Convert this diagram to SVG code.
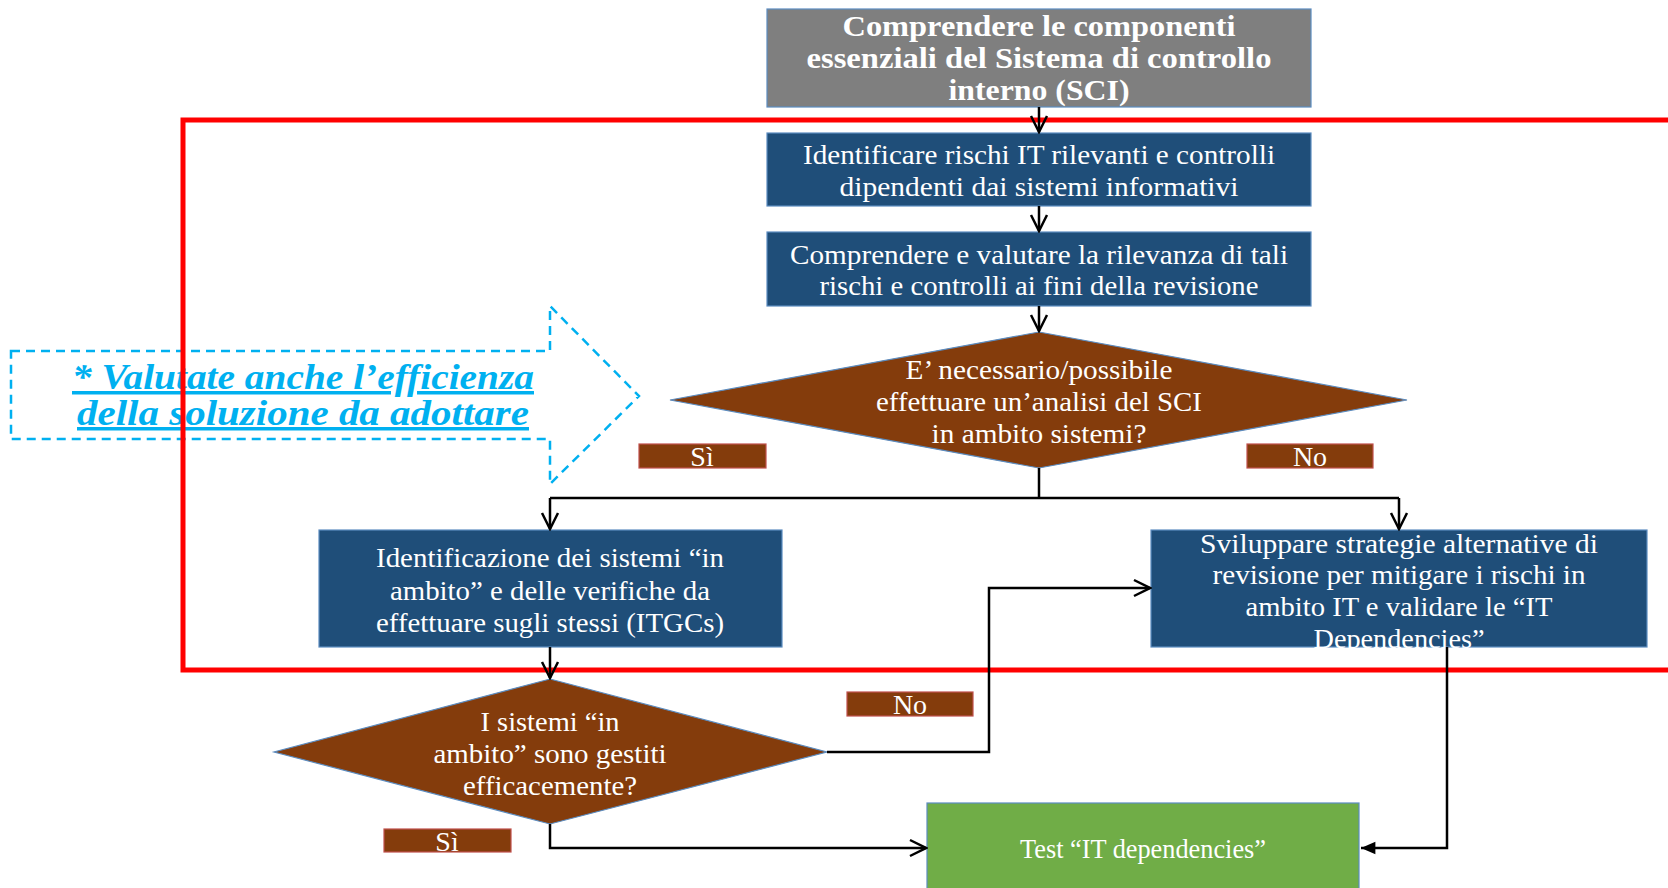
<svg xmlns="http://www.w3.org/2000/svg" width="1668" height="888" viewBox="0 0 1668 888">
<defs>
<style>
.box{stroke:#5B8CC0;stroke-width:1.2}
.blue{fill:#1F4E79}
.brown{fill:#843C0C}
.lbl{fill:#843C0C;stroke:#C0504D;stroke-width:1.2}
.t{font-family:"Liberation Serif","DejaVu Serif",serif;fill:#fff;text-anchor:middle;font-size:28px}
.hb{font-weight:bold;font-size:29px}
.conn{fill:none;stroke:#000;stroke-width:2.5}
.note{font-family:"Liberation Serif","DejaVu Serif",serif;font-weight:bold;font-style:italic;font-size:35px;fill:#00B0F0;text-anchor:middle;text-decoration:underline}
</style>
<marker id="open" viewBox="0 0 20 20" refX="18" refY="10" markerWidth="20" markerHeight="20" markerUnits="userSpaceOnUse" orient="auto">
<path d="M2,2 L18,10 L2,18" fill="none" stroke="#000" stroke-width="2.5"/>
</marker>
<marker id="filled" viewBox="0 0 20 20" refX="18" refY="10" markerWidth="18" markerHeight="18" markerUnits="userSpaceOnUse" orient="auto">
<path d="M2,3 L18,10 L2,17 Z" fill="#000"/>
</marker>
</defs>
<rect width="1668" height="888" fill="#fff"/>

<g id="note">
<path d="M11,351 L550,351 L550,306 L639,396 L550,484 L550,439 L11,439 Z" fill="none" stroke="#00B0F0" stroke-width="2.5" stroke-dasharray="9,6"/>
<text class="note" x="303" y="389" textLength="462" lengthAdjust="spacingAndGlyphs">* Valutate anche l’efficienza</text>
<text class="note" x="303" y="425" textLength="452" lengthAdjust="spacingAndGlyphs">della soluzione da adottare</text>
</g>

<g id="scope">
<path d="M1668,120 L183,120 L183,670 L1668,670" fill="none" stroke="#FF0000" stroke-width="5"/>
</g>

<g id="n1">
<rect x="767" y="9" width="544" height="98" fill="#7F7F7F" class="box"/>
<text class="t hb" x="1039" y="36" textLength="393" lengthAdjust="spacingAndGlyphs">Comprendere le componenti</text>
<text class="t hb" x="1039" y="68" textLength="465" lengthAdjust="spacingAndGlyphs">essenziali del Sistema di controllo</text>
<text class="t hb" x="1039" y="100" textLength="181" lengthAdjust="spacingAndGlyphs">interno (SCI)</text>
</g>

<g id="n2">
<rect x="767" y="133" width="544" height="73" class="box blue"/>
<text class="t" x="1039" y="164" textLength="472" lengthAdjust="spacingAndGlyphs">Identificare rischi IT rilevanti e controlli</text>
<text class="t" x="1039" y="196" textLength="399" lengthAdjust="spacingAndGlyphs">dipendenti dai sistemi informativi</text>
</g>

<g id="n3">
<rect x="767" y="232" width="544" height="74" class="box blue"/>
<text class="t" x="1039" y="264" textLength="498" lengthAdjust="spacingAndGlyphs">Comprendere e valutare la rilevanza di tali</text>
<text class="t" x="1039" y="295" textLength="439" lengthAdjust="spacingAndGlyphs">rischi e controlli ai fini della revisione</text>
</g>

<g id="d1">
<polygon points="1039,332 1407,400 1039,468 670,400" class="box brown"/>
<text class="t" x="1039" y="379" textLength="267" lengthAdjust="spacingAndGlyphs">E’ necessario/possibile</text>
<text class="t" x="1039" y="411" textLength="326" lengthAdjust="spacingAndGlyphs">effettuare un’analisi del SCI</text>
<text class="t" x="1039" y="443" textLength="215" lengthAdjust="spacingAndGlyphs">in ambito sistemi?</text>
</g>

<g id="l1">
<rect x="639" y="444" width="127" height="24" class="lbl"/>
<text class="t" x="702" y="466">Sì</text>
</g>
<g id="l2">
<rect x="1247" y="444" width="126" height="24" class="lbl"/>
<text class="t" x="1310" y="466">No</text>
</g>

<g id="n4">
<rect x="319" y="530" width="463" height="117" class="box blue"/>
<text class="t" x="550" y="567" textLength="348" lengthAdjust="spacingAndGlyphs">Identificazione dei sistemi “in</text>
<text class="t" x="550" y="600" textLength="320" lengthAdjust="spacingAndGlyphs">ambito” e delle verifiche da</text>
<text class="t" x="550" y="632" textLength="348" lengthAdjust="spacingAndGlyphs">effettuare sugli stessi (ITGCs)</text>
</g>

<g id="n5">
<rect x="1151" y="530" width="496" height="117" class="box blue"/>
<text class="t" x="1399" y="553" textLength="398" lengthAdjust="spacingAndGlyphs">Sviluppare strategie alternative di</text>
<text class="t" x="1399" y="584" textLength="373" lengthAdjust="spacingAndGlyphs">revisione per mitigare i rischi in</text>
<text class="t" x="1399" y="616" textLength="307" lengthAdjust="spacingAndGlyphs">ambito IT e validare le “IT</text>
<text class="t" x="1399" y="648" textLength="171" lengthAdjust="spacingAndGlyphs">Dependencies”</text>
</g>

<g id="d2">
<polygon points="550,679 827,752 550,824 274,752" class="box brown"/>
<text class="t" x="550" y="731" textLength="139" lengthAdjust="spacingAndGlyphs">I sistemi “in</text>
<text class="t" x="550" y="763" textLength="233" lengthAdjust="spacingAndGlyphs">ambito” sono gestiti</text>
<text class="t" x="550" y="795" textLength="174" lengthAdjust="spacingAndGlyphs">efficacemente?</text>
</g>

<g id="l3">
<rect x="847" y="692" width="126" height="24" class="lbl"/>
<text class="t" x="910" y="714">No</text>
</g>
<g id="l4">
<rect x="384" y="829" width="127" height="23" class="lbl"/>
<text class="t" x="447" y="851">Sì</text>
</g>

<g id="n6">
<rect x="927" y="803" width="432" height="90" fill="#70AD47" class="box"/>
<text class="t" x="1143" y="858" textLength="246" lengthAdjust="spacingAndGlyphs">Test “IT dependencies”</text>
</g>

<g id="connectors">
<path class="conn" d="M1039,107 L1039,132" marker-end="url(#open)"/>
<path class="conn" d="M1039,206 L1039,231" marker-end="url(#open)"/>
<path class="conn" d="M1039,306 L1039,331" marker-end="url(#open)"/>
<path class="conn" d="M1039,468 L1039,498"/>
<path class="conn" d="M550,498 L1399,498"/>
<path class="conn" d="M550,498 L550,529" marker-end="url(#open)"/>
<path class="conn" d="M1399,498 L1399,529" marker-end="url(#open)"/>
<path class="conn" d="M550,647 L550,678" marker-end="url(#open)"/>
<path class="conn" d="M827,752 L989,752 L989,588 L1150,588" marker-end="url(#open)"/>
<path class="conn" d="M550,824 L550,848 L926,848" marker-end="url(#open)"/>
<path class="conn" d="M1447,647 L1447,848 L1361,848" marker-end="url(#filled)"/>
</g>
</svg>
